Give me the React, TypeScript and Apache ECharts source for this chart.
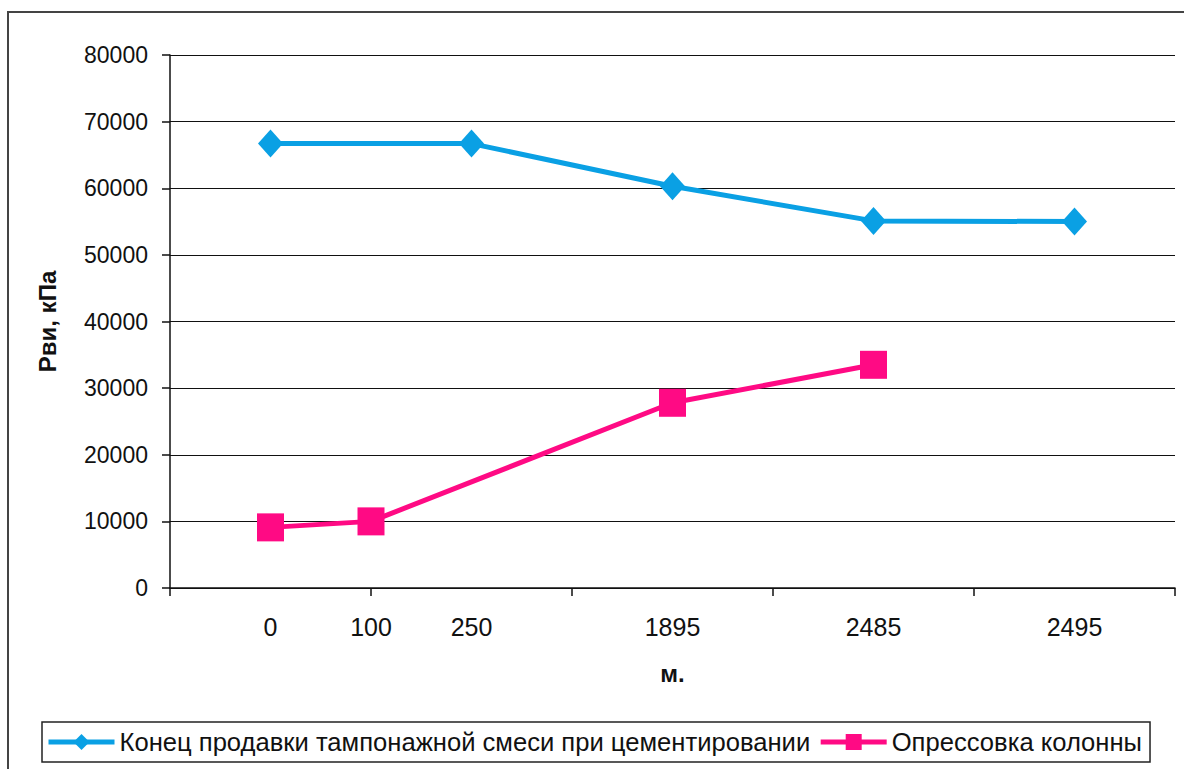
import React, { useEffect, useRef } from 'react';
import * as echarts from 'echarts';

// Excel-style axis slots: labels sit on slots, ticks on every other slot
const categories = ['', '0', '100', '250', '', '1895', '', '2485', '', '2495', ''];
const seriesNames = [
  'Конец продавки тампонажной смеси при цементировании',
  'Опрессовка колонны',
];
const blueValues = [null, 66700, null, 66700, null, 60300, null, 55100, null, 55000, null];
const pinkValues = [null, 9100, 10000, null, null, 27800, null, 33500, null, null, null];
const yMin = 0;
const yMax = 80000;
const yInterval = 10000;
const xTitle = 'м.';
const yTitle = 'Рви, кПа';

const FONT = '"Liberation Sans", Arial, sans-serif';
const BLUE = '#0aa0e4';
const PINK = '#ff0a84';

export default function App() {
  const ref = useRef<HTMLDivElement>(null);
  useEffect(() => {
    if (!ref.current) return;
    const chart = echarts.init(ref.current, undefined, { renderer: 'svg' });
    chart.setOption({
      animation: false,
      backgroundColor: '#fff',
      graphic: [
        {
          type: 'rect',
          shape: { x: 8, y: 12, width: 1300, height: 900 },
          style: { fill: 'none', stroke: '#444', lineWidth: 2 },
          silent: true,
        },
      ],
      grid: { left: 170, top: 55, right: 9, bottom: 181, containLabel: false },
      xAxis: {
        type: 'category',
        data: categories,
        boundaryGap: false,
        axisLine: { lineStyle: { color: '#111', width: 1.5 } },
        axisTick: {
          show: true,
          interval: (i: number) => i % 2 === 0,
          length: 8,
          lineStyle: { color: '#111', width: 1.5 },
        },
        axisLabel: { interval: 0, margin: 26, fontSize: 25, fontFamily: FONT, color: '#111' },
        splitLine: { show: false },
        name: xTitle,
        nameLocation: 'middle',
        nameGap: 73,
        nameTextStyle: { fontWeight: 'bold', fontSize: 24, fontFamily: FONT, color: '#111' },
      },
      yAxis: {
        type: 'value',
        min: yMin,
        max: yMax,
        interval: yInterval,
        axisLine: { show: true, lineStyle: { color: '#111', width: 1.5 } },
        axisTick: { show: true, length: 8, lineStyle: { color: '#111', width: 1.5 } },
        axisLabel: {
          margin: 22,
          fontSize: 23,
          fontFamily: FONT,
          color: '#111',
          formatter: (v: number) => String(v),
        },
        splitLine: { show: true, lineStyle: { color: '#111', width: 1.2 } },
        name: yTitle,
        nameLocation: 'middle',
        nameGap: 111,
        nameTextStyle: { fontWeight: 'bold', fontSize: 24, fontFamily: FONT, color: '#111' },
      },
      legend: {
        left: 42,
        top: 722,
        orient: 'horizontal',
        borderColor: '#222',
        borderWidth: 1.5,
        padding: [7, 8, 7, 4],
        itemGap: 8,
        itemWidth: 66,
        itemHeight: 20,
        lineStyle: { width: 5 },
        textStyle: { fontSize: 25.6, fontFamily: FONT, color: '#111' },
        data: seriesNames,
      },
      series: [
        {
          name: seriesNames[0],
          type: 'line',
          data: blueValues,
          connectNulls: true,
          symbol: 'diamond',
          symbolSize: [25, 28],
          lineStyle: { color: BLUE, width: 5 },
          itemStyle: { color: BLUE },
        },
        {
          name: seriesNames[1],
          type: 'line',
          data: pinkValues,
          connectNulls: true,
          symbol: 'rect',
          symbolSize: [27, 28],
          lineStyle: { color: PINK, width: 5 },
          itemStyle: { color: PINK },
        },
      ],
    });
    return () => chart.dispose();
  }, []);
  return (
    <div
      ref={ref}
      style={{ position: 'fixed', left: 0, top: 0, width: 1184, height: 769 }}
    />
  );
}
